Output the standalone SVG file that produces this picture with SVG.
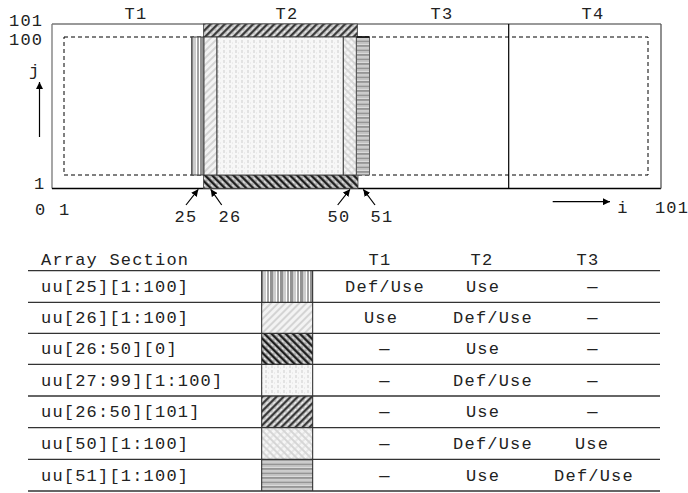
<svg xmlns="http://www.w3.org/2000/svg" width="688" height="493" viewBox="0 0 688 493">
<style>
text{font-family:"Liberation Mono","DejaVu Sans Mono",monospace;font-size:17px;letter-spacing:1.2px;fill:#222}
.m{text-anchor:middle}
.tl{stroke:#333;stroke-width:1.3}
.cell{stroke:#222;stroke-width:1}
.ar{stroke:#000;stroke-width:1.2;fill:none}
</style>
<defs>
<marker id="ah" viewBox="0 0 10 10" refX="10" refY="5" markerWidth="7" markerHeight="7" markerUnits="userSpaceOnUse" orient="auto">
<path d="M0,0 L10,5 L0,10 z" fill="#000"/>
</marker>
<pattern id="p25" width="10" height="4" patternUnits="userSpaceOnUse">
<rect width="10" height="4" fill="#fff"/>
<rect x="0" width="3.5" height="4" fill="#939393"/>
<rect x="3.5" width="2.5" height="4" fill="#cdcdcd"/>
<rect x="7" width="2" height="4" fill="#a5a5a5"/>
</pattern>
<pattern id="p26" width="5" height="5" patternUnits="userSpaceOnUse" patternTransform="rotate(45)">
<rect width="5" height="5" fill="#f3f3f3"/>
<rect width="2" height="5" fill="#d4d4d4"/>
</pattern>
<pattern id="p0" width="5" height="5" patternUnits="userSpaceOnUse" patternTransform="rotate(-45)">
<rect width="5" height="5" fill="#b0b0b0"/>
<rect width="2.2" height="5" fill="#1e1e1e"/>
<rect x="3" y="0" width="1" height="2.5" fill="#f0f0f0"/>
</pattern>
<pattern id="p101" width="5" height="5" patternUnits="userSpaceOnUse" patternTransform="rotate(45)">
<rect width="5" height="5" fill="#c8c8c8"/>
<rect width="2.2" height="5" fill="#3a3a3a"/>
<rect x="3" y="0" width="1" height="2.5" fill="#f4f4f4"/>
</pattern>
<pattern id="p27" width="6" height="5" patternUnits="userSpaceOnUse">
<rect width="6" height="5" fill="#f7f7f7"/>
<rect x="1" y="0" width="2" height="3" fill="#e2e2e2"/>
<rect x="4" y="2" width="1" height="2" fill="#ececec"/>
</pattern>
<pattern id="p50" width="5" height="5" patternUnits="userSpaceOnUse" patternTransform="rotate(-45)">
<rect width="5" height="5" fill="#f6f6f6"/>
<rect width="2" height="5" fill="#d6d6d6"/>
<rect x="2" y="0" width="3" height="2" fill="#e6e6e6"/>
</pattern>
<pattern id="p51" width="6" height="4.5" patternUnits="userSpaceOnUse">
<rect width="6" height="4.5" fill="#e4e4e4"/>
<rect y="0" width="6" height="2" fill="#959595"/>
<rect y="2.8" width="6" height="1" fill="#bdbdbd"/>
</pattern>
</defs>

<g id="grid">
<rect x="64" y="37" width="584" height="138" fill="none" stroke="#000" stroke-width="1" stroke-dasharray="4 3"/>
<line x1="52" y1="24" x2="661" y2="24" stroke="#777" stroke-width="1.3"/>
<line x1="52" y1="24" x2="52" y2="188.5" stroke="#777" stroke-width="1.3"/>
<line x1="52" y1="188.5" x2="661" y2="188.5" stroke="#000" stroke-width="1.3"/>
<line x1="661" y1="24" x2="661" y2="188.5" stroke="#555" stroke-width="1.3"/>
<line x1="508.7" y1="24" x2="508.7" y2="188.5" stroke="#000" stroke-width="1.2"/>
</g>

<g id="sections">
<rect id="s101" x="203.5" y="24" width="154" height="13" fill="url(#p101)" stroke="#444" stroke-width="0.8"/>
<rect id="s0" x="203.5" y="175" width="154.5" height="13.5" fill="url(#p0)" stroke="#444" stroke-width="0.8"/>
<rect id="s25" x="191.7" y="37" width="12.3" height="138" fill="url(#p25)" stroke="#333" stroke-width="0.9"/>
<rect id="s26" x="204" y="37" width="13" height="138" fill="url(#p26)" stroke="#333" stroke-width="0.9"/>
<rect id="s27" x="217" y="37" width="126.3" height="138" fill="url(#p27)" stroke="#333" stroke-width="0.9"/>
<rect id="s50" x="343.3" y="37" width="13" height="138" fill="url(#p50)" stroke="#333" stroke-width="0.9"/>
<rect id="s51" x="356.5" y="37" width="13" height="138" fill="url(#p51)" stroke="#555" stroke-width="0.9"/>
<line x1="356.5" y1="37" x2="369.5" y2="37" stroke="#000" stroke-width="1.5"/>
</g>

<g id="connectors">
<line class="ar" x1="39.5" y1="137" x2="39.5" y2="82" marker-end="url(#ah)"/>
<line class="ar" x1="552.7" y1="201.7" x2="610" y2="201.7" stroke="#444" marker-end="url(#ah)"/>
<line class="ar" x1="186" y1="205" x2="198.3" y2="189.3" marker-end="url(#ah)"/>
<line class="ar" x1="221.7" y1="205" x2="210.7" y2="189.3" marker-end="url(#ah)"/>
<line class="ar" x1="337.7" y1="205" x2="350" y2="189.3" marker-end="url(#ah)"/>
<line class="ar" x1="375" y1="205" x2="363.3" y2="189.3" marker-end="url(#ah)"/>
</g>

<g id="labels">
<text x="9" y="26">101</text>
<text x="9" y="45">100</text>
<text x="29" y="76">j</text>
<text x="34" y="189">1</text>
<text x="35" y="215">0</text>
<text x="59" y="215">1</text>
<text class="m" x="186" y="222">25</text>
<text class="m" x="230" y="222">26</text>
<text class="m" x="339" y="222">50</text>
<text class="m" x="382" y="222">51</text>
<text class="m" x="623" y="213">i</text>
<text class="m" x="672" y="213">101</text>
<text class="m" x="136" y="19">T1</text>
<text class="m" x="287" y="19">T2</text>
<text class="m" x="442" y="19">T3</text>
<text class="m" x="593" y="19">T4</text>
</g>

<g id="table">
<rect x="261.7" y="270.7" width="51" height="31.6" fill="url(#p25)"/>
<rect x="261.7" y="302.3" width="51" height="31" fill="url(#p26)"/>
<rect x="261.7" y="333.3" width="51" height="31" fill="url(#p0)"/>
<rect x="261.7" y="364.3" width="51" height="31.7" fill="url(#p27)"/>
<rect x="261.7" y="396" width="51" height="31.7" fill="url(#p101)"/>
<rect x="261.7" y="427.7" width="51" height="31.6" fill="url(#p50)"/>
<rect x="261.7" y="459.3" width="51" height="31.7" fill="url(#p51)"/>
<line class="cell" x1="261.7" y1="270.7" x2="261.7" y2="491"/>
<line class="cell" x1="312.7" y1="270.7" x2="312.7" y2="491"/>
<line class="tl" x1="28" y1="270.7" x2="660" y2="270.7"/>
<line class="tl" x1="28" y1="302.3" x2="660" y2="302.3"/>
<line class="tl" x1="28" y1="333.3" x2="660" y2="333.3"/>
<line class="tl" x1="28" y1="364.3" x2="660" y2="364.3"/>
<line class="tl" x1="28" y1="396" x2="660" y2="396"/>
<line class="tl" x1="28" y1="427.7" x2="660" y2="427.7"/>
<line class="tl" x1="28" y1="459.3" x2="660" y2="459.3"/>
<line class="tl" x1="28" y1="491" x2="660" y2="491"/>

<text x="41" y="265">Array Section</text>
<text class="m" x="380" y="265">T1</text>
<text class="m" x="482" y="265">T2</text>
<text class="m" x="588" y="265">T3</text>

<text x="41" y="292">uu[25][1:100]</text>
<text class="m" x="385" y="292">Def/Use</text>
<text class="m" x="483" y="292">Use</text>
<text class="m" x="593" y="292">—</text>

<text x="41" y="323">uu[26][1:100]</text>
<text class="m" x="381" y="323">Use</text>
<text class="m" x="493" y="323">Def/Use</text>
<text class="m" x="593" y="323">—</text>

<text x="41" y="354">uu[26:50][0]</text>
<text class="m" x="385" y="354">—</text>
<text class="m" x="483" y="354">Use</text>
<text class="m" x="593" y="354">—</text>

<text x="41" y="385.5">uu[27:99][1:100]</text>
<text class="m" x="385" y="385.5">—</text>
<text class="m" x="493" y="385.5">Def/Use</text>
<text class="m" x="593" y="385.5">—</text>

<text x="41" y="417">uu[26:50][101]</text>
<text class="m" x="385" y="417">—</text>
<text class="m" x="483" y="417">Use</text>
<text class="m" x="593" y="417">—</text>

<text x="41" y="449">uu[50][1:100]</text>
<text class="m" x="385" y="449">—</text>
<text class="m" x="493" y="449">Def/Use</text>
<text class="m" x="592" y="449">Use</text>

<text x="41" y="480.5">uu[51][1:100]</text>
<text class="m" x="385" y="480.5">—</text>
<text class="m" x="483" y="480.5">Use</text>
<text class="m" x="594" y="480.5">Def/Use</text>
</g>
</svg>
